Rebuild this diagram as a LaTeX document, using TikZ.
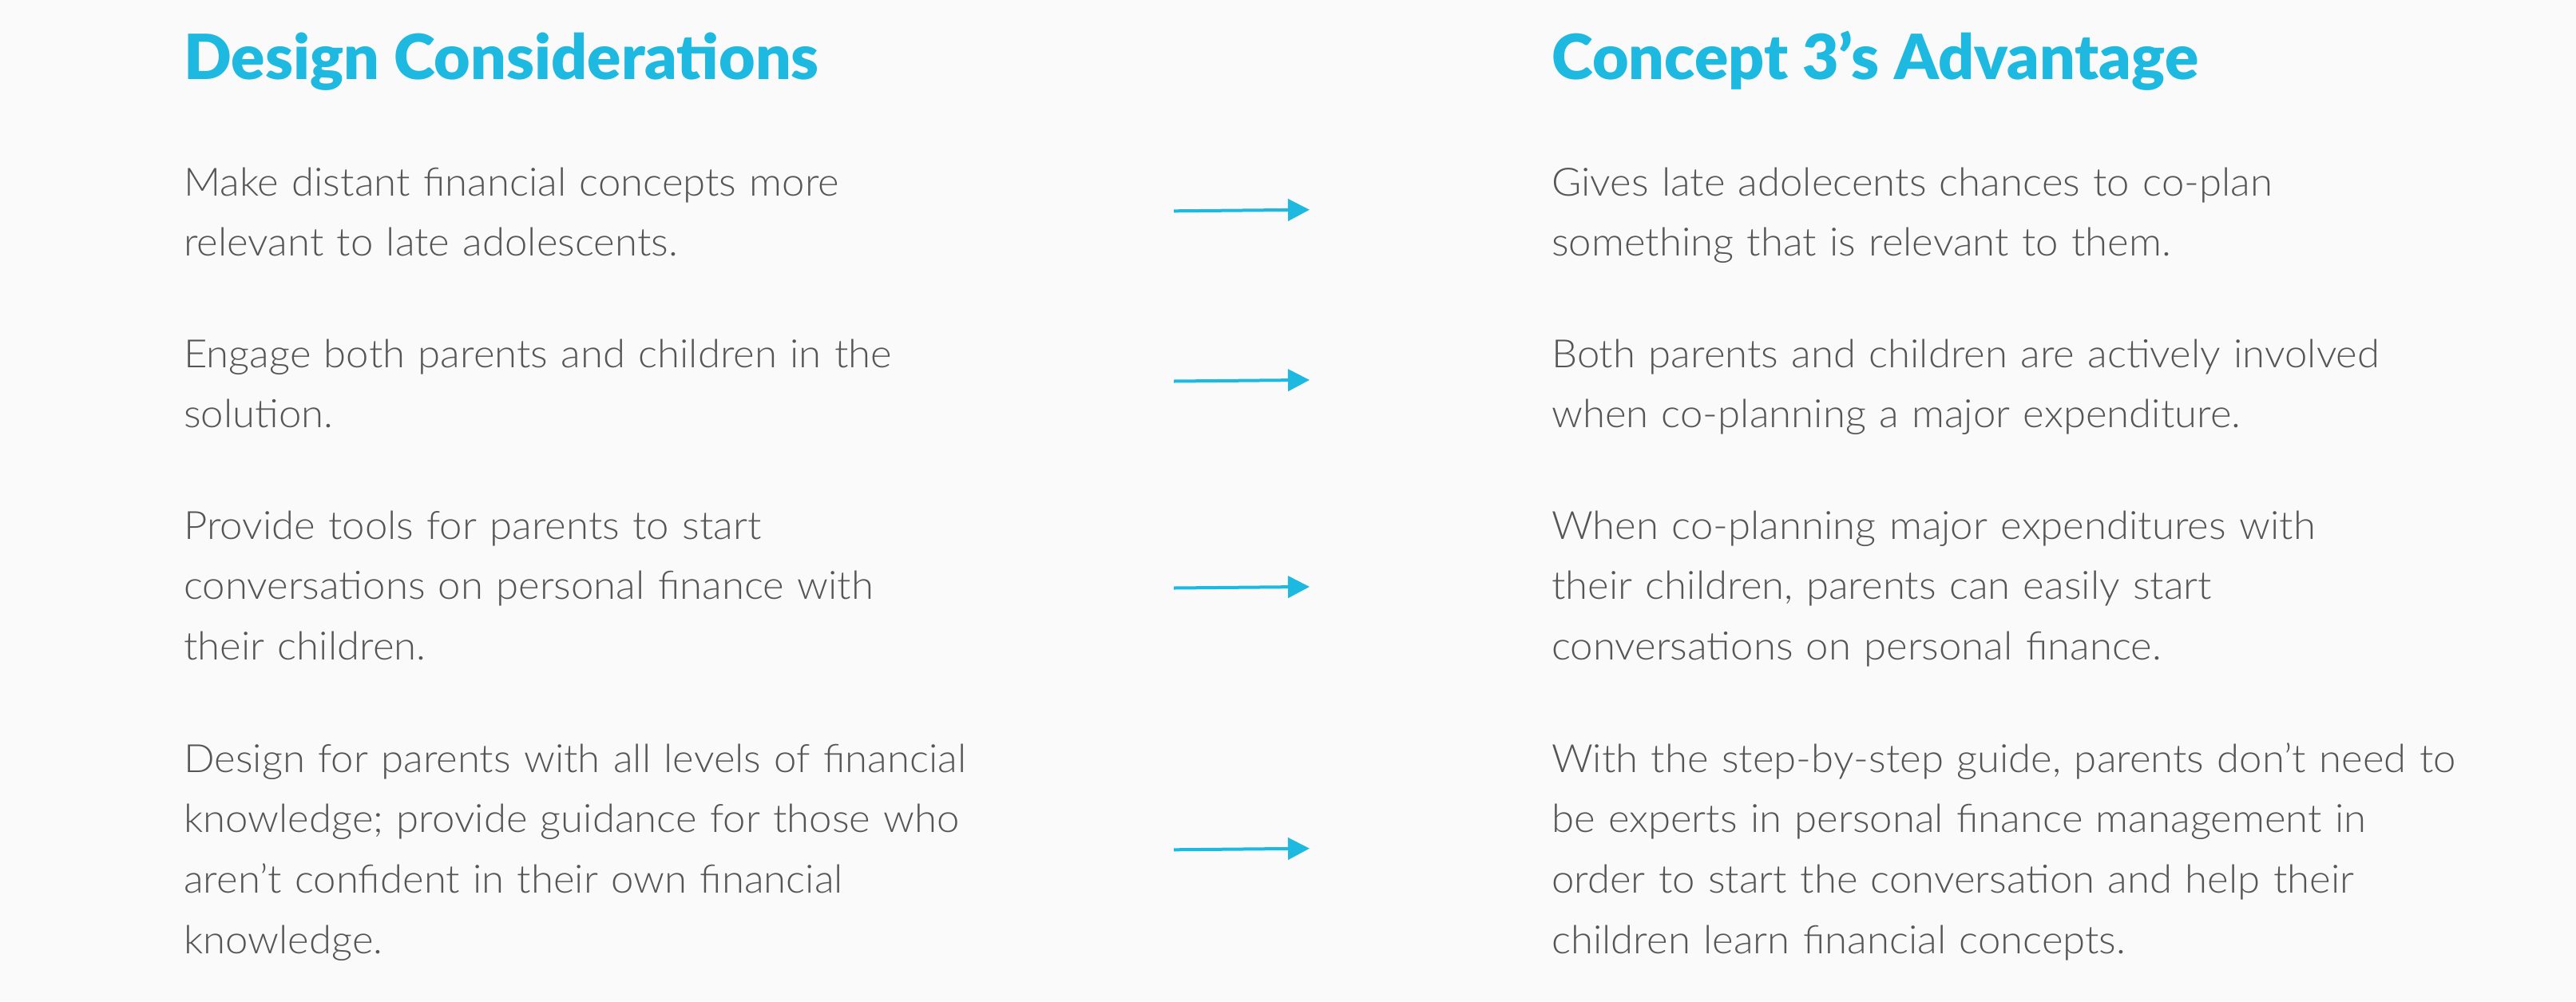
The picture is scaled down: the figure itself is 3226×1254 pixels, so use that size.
\documentclass[tikz,border=0pt]{standalone}
\usepackage{fontspec}
\usetikzlibrary{arrows.meta}
\newfontfamily\bodyfont{Lato Light}[FakeStretch=1.043]
\newfontfamily\headfont{Lato Black}[FakeStretch=1.008]
\definecolor{accent}{HTML}{1DB9E0}
\definecolor{bodygray}{HTML}{555555}
\definecolor{bgcol}{HTML}{FAFAFA}
\tikzset{
  heading/.style={anchor=base west, inner sep=0pt, text=accent, font=\headfont\fontsize{78}{90}\selectfont},
  para/.style={anchor=base west, inner sep=0pt, text=bodygray, text width=1300pt, align=left,
    font=\bodyfont\fontsize{48.8}{75.8}\selectfont},
  link/.style={draw=accent, line width=4pt, -{Triangle[length=27pt,width=27pt]}}
}
\begin{document}
\begin{tikzpicture}[x=1pt,y=-1pt]
\fill[bgcol] (0,0) rectangle (3226,1254);
\useasboundingbox (0,0) rectangle (3226,1254);
\node[heading] (hl) at (230,99) {Design Considerations};
\node[heading] (hr) at (1943,99) {Concept 3’s Advantage};

\node[para] (l1) at (230,245) {Make distant financial concepts more\\relevant to late adolescents.};
\node[para] (l2) at (230,460) {Engage both parents and children in the\\solution.};
\node[para] (l3) at (230,675) {Provide tools for parents to start\\conversations on personal finance with\\their children.};
\node[para] (l4) at (230,967) {Design for parents with all levels of financial\\knowledge; provide guidance for those who\\aren’t confident in their own financial\\knowledge.};

\node[para] (r1) at (1943,245) {Gives late adolecents chances to co-plan\\something that is relevant to them.};
\node[para] (r2) at (1943,460) {Both parents and children are actively involved\\when co-planning a major expenditure.};
\node[para] (r3) at (1943,675) {When co-planning major expenditures with\\their children, parents can easily start\\conversations on personal finance.};
\node[para] (r4) at (1943,967) {With the step-by-step guide, parents don’t need to\\be experts in personal finance management in\\order to start the conversation and help their\\children learn financial concepts.};

\coordinate (a1s) at (1470,264.3); \coordinate (a1e) at (1640,262.7);
\coordinate (a2s) at (1470,477.5); \coordinate (a2e) at (1640,475.9);
\coordinate (a3s) at (1470,736.5); \coordinate (a3e) at (1640,734.9);
\coordinate (a4s) at (1470,1064.3); \coordinate (a4e) at (1640,1062.7);
\draw[link] (a1s) -- (a1e);
\draw[link] (a2s) -- (a2e);
\draw[link] (a3s) -- (a3e);
\draw[link] (a4s) -- (a4e);
\end{tikzpicture}
\end{document}
